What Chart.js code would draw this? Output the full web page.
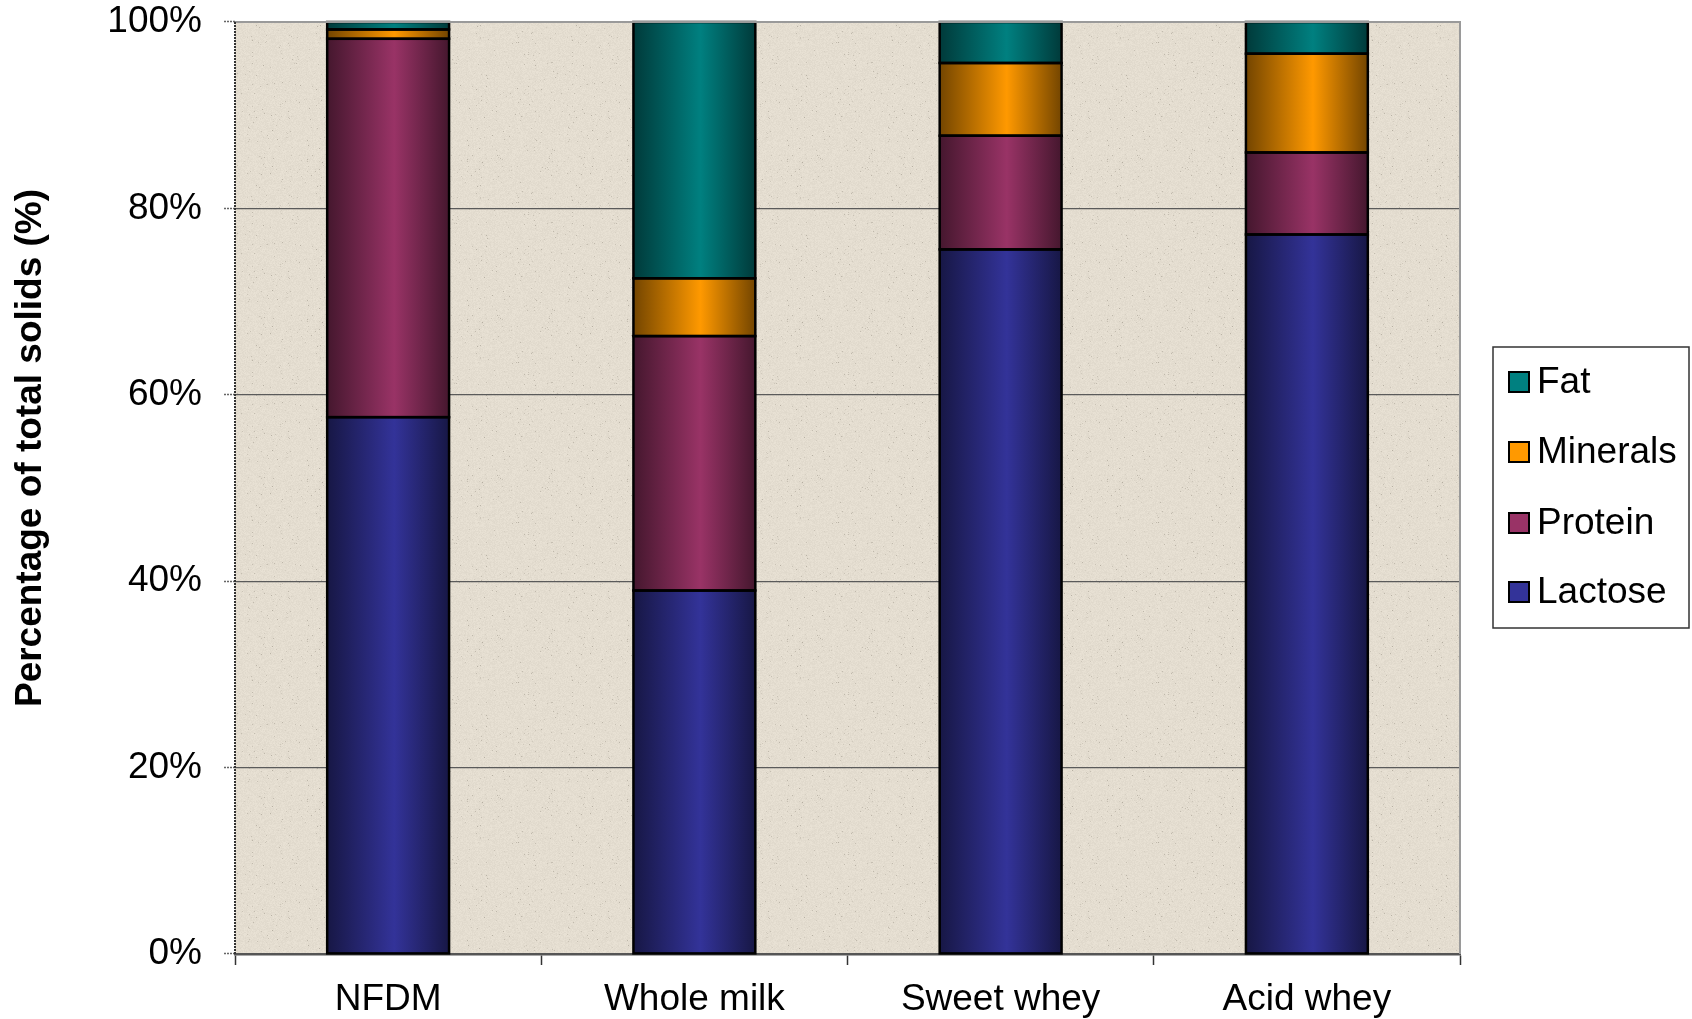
<!DOCTYPE html>
<html>
<head>
<meta charset="utf-8">
<title>Composition of dairy solids</title>
<script src="https://cdn.jsdelivr.net/npm/chart.js@4/dist/chart.umd.min.js"></script>
<style>
  html, body { margin: 0; padding: 0; background: #ffffff; }
  #wrap { width: 1692px; height: 1019px; }
</style>
</head>
<body>
<div id="wrap"><canvas id="chart" width="1692" height="1019"></canvas></div>
<script>
// Products on the category axis
const categories = ['NFDM', 'Whole milk', 'Sweet whey', 'Acid whey'];

// Share of total solids per component (%), stacked bottom to top
const lactose  = [57.6, 39.0, 75.6, 77.2];
const protein  = [40.6, 27.3, 12.2,  8.8];
const minerals = [ 1.0,  6.2,  7.8, 10.6];
const fat      = [ 0.8, 27.5,  4.4,  3.4];

// Value axis ticks
const yTicks = [0, 20, 40, 60, 80, 100];

const axisTitle = 'Percentage of total solids (%)';
const FONT = '"Liberation Sans", Arial, Helvetica, sans-serif';
const FONT_SIZE = 37;
const BAR_FRACTION = 0.398;

const COLORS = {
  lactose:  [0x33, 0x33, 0x99],
  protein:  [0x99, 0x33, 0x66],
  minerals: [0xFF, 0x99, 0x00],
  fat:      [0x00, 0x80, 0x80]
};

function rgb(c, k) {
  return 'rgb(' + Math.round(c[0] * k) + ',' + Math.round(c[1] * k) + ',' + Math.round(c[2] * k) + ')';
}

// Cylinder-like shading across each bar: dark edges, bright just right of centre
function barFill(base) {
  return function (ctx) {
    const chart = ctx.chart;
    const xs = chart.scales && chart.scales.x;
    if (!xs || !chart.chartArea || ctx.dataIndex === undefined) return rgb(base, 1);
    const centre = xs.getPixelForValue(ctx.dataIndex);
    const half = (xs.width / categories.length) * BAR_FRACTION / 2;
    const g = chart.ctx.createLinearGradient(centre - half, 0, centre + half, 0);
    g.addColorStop(0, rgb(base, 0.45));
    g.addColorStop(0.55, rgb(base, 1));
    g.addColorStop(1, rgb(base, 0.45));
    return g;
  };
}

function series(label, data, base) {
  return {
    label: label,
    data: data,
    swatch: rgb(base, 1),
    backgroundColor: barFill(base),
    borderWidth: 0,
    barPercentage: BAR_FRACTION,
    categoryPercentage: 1.0
  };
}

// Speckled beige fill for the plot area, built from a fixed hash
function makeTexture(ctx) {
  const size = 160;
  const c = document.createElement('canvas');
  c.width = size; c.height = size;
  const g = c.getContext('2d');
  const img = g.createImageData(size, size);
  const h = n => { const s = Math.sin(n * 12.9898 + 78.233) * 43758.5453; return s - Math.floor(s); };
  for (let y = 0; y < size; y++) {
    for (let x = 0; x < size; x++) {
      const i = (y * size + x) * 4;
      const n = h(x * 157 + y * 311);
      let d = (n - 0.5) * 10;
      const sp = h(x * 71 + y * 193 + 7);
      if (sp > 0.985) d -= 35 * (sp - 0.985) / 0.015 + 8;
      img.data[i]     = 228 + d;
      img.data[i + 1] = 221 + d;
      img.data[i + 2] = 208 + d;
      img.data[i + 3] = 255;
    }
  }
  g.putImageData(img, 0, 0);
  return ctx.createPattern(c, 'repeat');
}

let texture = null;

// Black outline around every stacked segment, taken from the laid-out bar elements
const segmentOutline = {
  id: 'segmentOutline',
  afterDatasetsDraw(chart) {
    const ctx = chart.ctx;
    ctx.save();
    ctx.strokeStyle = '#000000';
    ctx.lineWidth = 2.5;
    chart.data.datasets.forEach((ds, di) => {
      const meta = chart.getDatasetMeta(di);
      if (meta.hidden) return;
      meta.data.forEach(bar => {
        const p = bar.getProps(['x', 'y', 'base', 'width'], true);
        const top = Math.min(p.y, p.base);
        const h = Math.abs(p.base - p.y);
        ctx.strokeRect(p.x - p.width / 2, top, p.width, h);
      });
    });
    ctx.restore();
  }
};

const plotDecor = {
  id: 'plotDecor',
  beforeDraw(chart) {
    const { ctx, chartArea: a } = chart;
    if (!texture) texture = makeTexture(ctx);
    ctx.save();
    ctx.fillStyle = texture;
    ctx.fillRect(a.left, a.top, a.right - a.left, a.bottom - a.top);
    ctx.restore();
  },
  afterDraw(chart) {
    const { ctx, chartArea: a } = chart;
    ctx.save();
    // frame on top and right of the plot
    ctx.strokeStyle = '#9a9a9a';
    ctx.lineWidth = 2;
    ctx.beginPath();
    ctx.moveTo(a.left, a.top);
    ctx.lineTo(a.right, a.top);
    ctx.lineTo(a.right, a.bottom);
    ctx.stroke();

    // dotted value axis line
    ctx.strokeStyle = '#333333';
    ctx.lineWidth = 2;
    ctx.setLineDash([2, 1]);
    ctx.beginPath();
    ctx.moveTo(a.left, a.top);
    ctx.lineTo(a.left, a.bottom);
    ctx.stroke();
    ctx.setLineDash([]);

    // rotated value-axis title
    ctx.fillStyle = '#000000';
    ctx.font = 'bold ' + FONT_SIZE + 'px ' + FONT;
    ctx.textAlign = 'center';
    ctx.textBaseline = 'middle';
    ctx.translate(31, 448);
    ctx.rotate(-Math.PI / 2);
    ctx.fillText(axisTitle, 0, 0);
    ctx.restore();

    // legend box, top series first
    ctx.save();
    const box = { x: 1493, y: 347, w: 196, h: 281 };
    ctx.fillStyle = '#ffffff';
    ctx.fillRect(box.x, box.y, box.w, box.h);
    ctx.strokeStyle = '#333333';
    ctx.lineWidth = 1.5;
    ctx.strokeRect(box.x, box.y, box.w, box.h);
    const sets = chart.data.datasets.slice().reverse();
    const rowY = [382, 452, 523, 592];
    ctx.font = FONT_SIZE + 'px ' + FONT;
    ctx.textAlign = 'left';
    ctx.textBaseline = 'middle';
    sets.forEach((ds, i) => {
      const cy = rowY[i];
      ctx.fillStyle = ds.swatch;
      ctx.fillRect(1509, cy - 10, 20, 20);
      ctx.strokeStyle = '#000000';
      ctx.lineWidth = 2;
      ctx.strokeRect(1509, cy - 10, 20, 20);
      ctx.fillStyle = '#000000';
      ctx.fillText(ds.label, 1537, cy + 1);
    });
    ctx.restore();
  }
};

new Chart(document.getElementById('chart'), {
  type: 'bar',
  data: {
    labels: categories,
    datasets: [
      series('Lactose', lactose, COLORS.lactose),
      series('Protein', protein, COLORS.protein),
      series('Minerals', minerals, COLORS.minerals),
      series('Fat', fat, COLORS.fat)
    ]
  },
  options: {
    responsive: false,
    devicePixelRatio: 1,
    animation: false,
    layout: { padding: { left: 0, top: 22, right: 232, bottom: 0 } },
    plugins: {
      legend: { display: false },
      tooltip: { enabled: false },
      title: { display: false }
    },
    scales: {
      x: {
        stacked: true,
        offset: true,
        afterFit(scale) {
          scale.height = 65;
          scale.paddingLeft = 0;
          scale.paddingRight = 0;
        },
        grid: {
          offset: true,
          drawOnChartArea: false,
          drawTicks: true,
          tickLength: 11,
          tickColor: '#333333',
          tickWidth: 1.5
        },
        border: { display: true, color: '#555555', width: 2.5 },
        ticks: {
          color: '#000000',
          font: { family: FONT, size: FONT_SIZE },
          padding: 13,
          maxRotation: 0,
          autoSkip: false
        }
      },
      y: {
        stacked: true,
        min: 0,
        max: 100,
        afterFit(scale) {
          scale.width = 235;
          scale.paddingTop = 0;
          scale.paddingBottom = 0;
        },
        afterBuildTicks(scale) { scale.ticks = yTicks.map(v => ({ value: v })); },
        grid: {
          color: '#5a5a5a',
          lineWidth: 1.2,
          drawTicks: true,
          tickLength: 11,
          tickColor: '#666666',
          tickBorderDash: [2, 1],
          tickWidth: 1.5
        },
        border: { display: false },
        ticks: {
          color: '#000000',
          font: { family: FONT, size: FONT_SIZE },
          padding: 22,
          callback: v => v + '%'
        }
      }
    }
  },
  plugins: [segmentOutline, plotDecor]
});
</script>
</body>
</html>
